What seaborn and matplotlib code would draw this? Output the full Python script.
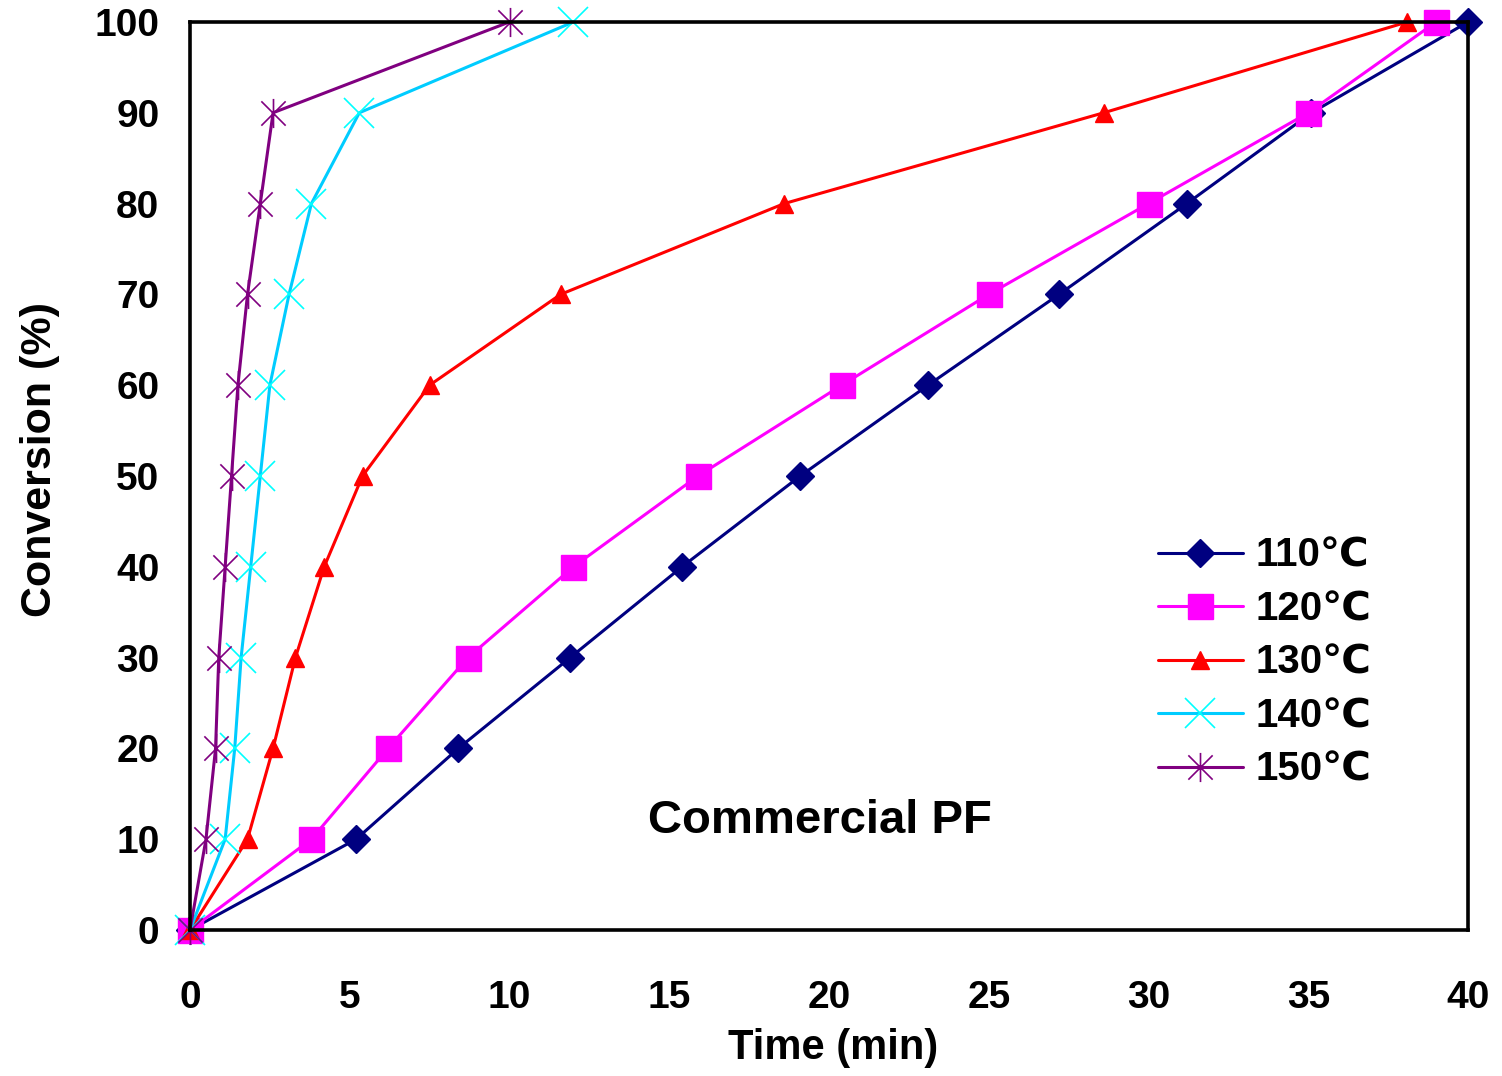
import matplotlib
matplotlib.use("Agg")
import matplotlib.pyplot as plt
from matplotlib.path import Path
import seaborn as sns

# Conversion levels (%) and time (min) needed to reach them at each temperature
conversion = [0, 10, 20, 30, 40, 50, 60, 70, 80, 90, 100]
time_110 = [0, 5.2, 8.4, 11.9, 15.4, 19.1, 23.1, 27.2, 31.2, 35.1, 40.0]
time_120 = [0, 3.8, 6.2, 8.7, 12.0, 15.9, 20.4, 25.0, 30.0, 35.0, 39.0]
time_130 = [0, 1.8, 2.6, 3.3, 4.2, 5.4, 7.5, 11.6, 18.6, 28.6, 38.1]
time_140 = [0, 1.1, 1.4, 1.6, 1.9, 2.2, 2.5, 3.1, 3.8, 5.3, 12.0]
time_150 = [0, 0.5, 0.8, 0.9, 1.1, 1.3, 1.5, 1.8, 2.2, 2.6, 10.0]
labels = ["110℃", "120℃", "130℃", "140℃", "150℃"]

x_ticks = [0, 5, 10, 15, 20, 25, 30, 35, 40]
y_ticks = [0, 10, 20, 30, 40, 50, 60, 70, 80, 90, 100]

sns.set_style("white")
plt.rcParams["font.family"] = ["Liberation Sans", "DejaVu Sans"]
plt.rcParams["font.weight"] = "bold"
plt.rcParams["text.color"] = "black"
plt.rcParams["axes.labelcolor"] = "black"
plt.rcParams["xtick.color"] = "black"
plt.rcParams["ytick.color"] = "black"

# asterisk marker: an x with a vertical bar
star = Path([(-1, -1), (1, 1), (-1, 1), (1, -1), (0, -1.2), (0, 1.2)],
            [Path.MOVETO, Path.LINETO, Path.MOVETO, Path.LINETO,
             Path.MOVETO, Path.LINETO])

styles = [
    dict(color="#000080", marker="D", markersize=14, markerfacecolor="#000080",
         markeredgecolor="#000080", markeredgewidth=1),
    dict(color="#FF00FF", marker="s", markersize=18, markerfacecolor="#FF00FF",
         markeredgecolor="#FF00FF", markeredgewidth=1),
    dict(color="#FF0000", marker="^", markersize=13, markerfacecolor="#FF0000",
         markeredgecolor="#FF0000", markeredgewidth=1),
    dict(color="#00CCFF", marker="x", markersize=21, markerfacecolor="none",
         markeredgecolor="#00FFFF", markeredgewidth=1.2),
    dict(color="#800080", marker=star, markersize=21, markerfacecolor="none",
         markeredgecolor="#800080", markeredgewidth=1.2),
]

fig = plt.figure(figsize=(15.02, 10.76), dpi=100)
ax = fig.add_axes([0.1265, 0.1357, 0.8509, 0.8439])

for times, lab, st in zip([time_110, time_120, time_130, time_140, time_150],
                          labels, styles):
    sns.lineplot(x=times, y=conversion, ax=ax, label=lab, linewidth=2.2,
                 errorbar=None, sort=False, clip_on=False, legend=False, **st)

ax.set_xlim(0, 40)
ax.set_ylim(0, 100)
ax.set_xticks(x_ticks)
ax.set_yticks(y_ticks)
ax.tick_params(axis="x", direction="in", length=9, width=1.2, labelsize=28,
               pad=36, colors="black")
ax.tick_params(axis="y", direction="in", length=9, width=1.2, labelsize=28,
               pad=22, colors="black")

for side in ["left", "right", "top", "bottom"]:
    ax.spines[side].set_visible(True)
    ax.spines[side].set_color("black")
    ax.spines[side].set_linewidth(2.6)

ax.set_xlabel("Time (min)", fontsize=30, fontweight="bold", color="black")
ax.set_ylabel("Conversion (%)", fontsize=31, fontweight="bold", color="black")
ax.xaxis.set_label_coords(0.503, -0.108)
ax.yaxis.set_label_coords(-0.102, 0.518)

ax.text(0.493, 0.12, "Commercial PF", transform=ax.transAxes, ha="center",
        va="center", fontsize=34, fontweight="bold", color="black")

handles, hlabels = ax.get_legend_handles_labels()
leg = ax.legend(handles, hlabels, loc="upper left", bbox_to_anchor=(0.7574, 0.433),
                frameon=False, fontsize=29, borderaxespad=0, borderpad=0,
                handlelength=2.1, handletextpad=0.33, labelspacing=0.385)
for t in leg.get_texts():
    t.set_color("black")

fig.savefig("out.png", dpi=100)
